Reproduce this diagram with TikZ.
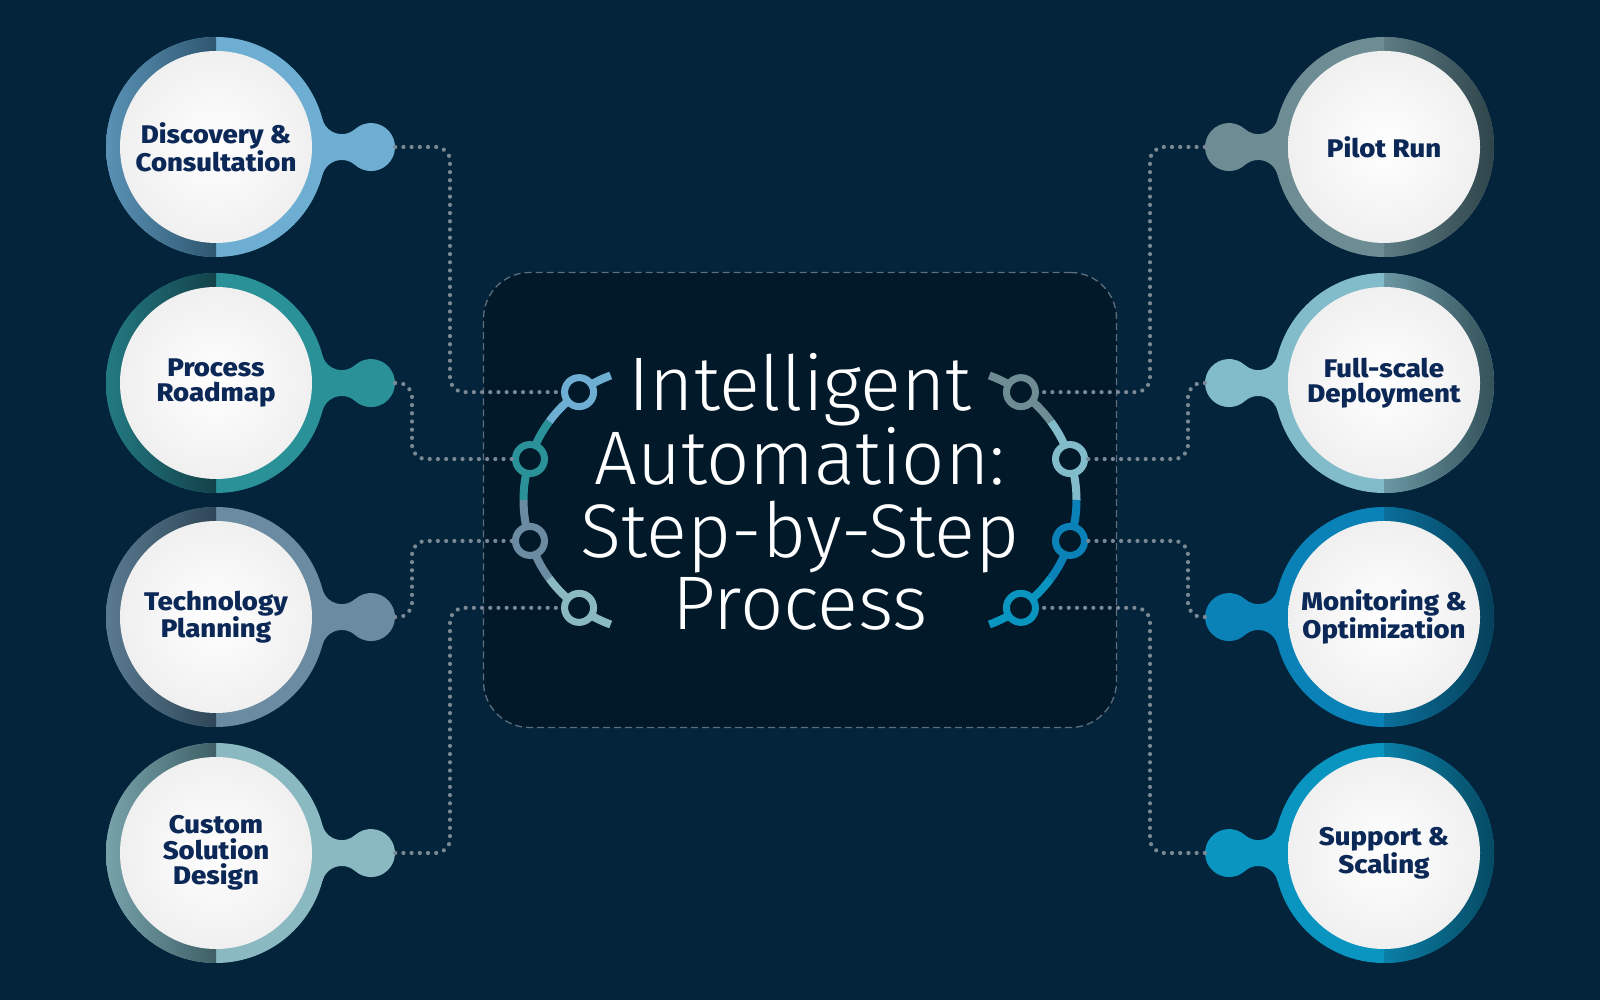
\documentclass[tikz,border=0pt]{standalone}
\usepackage{fontspec}
\setmainfont{Fira Sans}
\newfontfamily\titlefont{Fira Sans Light}
\newfontfamily\labelfont[FakeStretch=1.08]{Fira Sans ExtraBold}

\definecolor{bgnavy}{HTML}{03243B}
\definecolor{panelfill}{HTML}{02192A}
\definecolor{panelline}{HTML}{5E6E7C}
\definecolor{dotgray}{HTML}{7A8794}
\definecolor{labelnavy}{HTML}{0B2857}
\definecolor{discovery}{HTML}{6EAED2}\definecolor{discoveryMid}{HTML}{5A92B5}\definecolor{discoveryDark}{HTML}{2E5670}
\definecolor{roadmap}{HTML}{2B9199}\definecolor{roadmapMid}{HTML}{237A82}\definecolor{roadmapDark}{HTML}{134149}
\definecolor{planning}{HTML}{6A8BA1}\definecolor{planningMid}{HTML}{5A7A90}\definecolor{planningDark}{HTML}{2E4657}
\definecolor{design}{HTML}{8BB9C1}\definecolor{designMid}{HTML}{78A3AB}\definecolor{designDark}{HTML}{3E5F66}
\definecolor{pilot}{HTML}{6D8C94}\definecolor{pilotMid}{HTML}{5E7C84}\definecolor{pilotDark}{HTML}{2E444A}
\definecolor{deploy}{HTML}{82BCCB}\definecolor{deployMid}{HTML}{6A97A3}\definecolor{deployDark}{HTML}{34525A}
\definecolor{monitor}{HTML}{0B82B7}\definecolor{monitorMid}{HTML}{0A6F9B}\definecolor{monitorDark}{HTML}{06405A}
\definecolor{support}{HTML}{0A95C1}\definecolor{supportMid}{HTML}{0A7FA6}\definecolor{supportDark}{HTML}{064A63}

\tikzset{
    panel/.style={rectangle, rounded corners=46pt, draw=panelline, fill=panelfill,
        line width=1.3pt, dash pattern=on 7pt off 4pt,
        minimum width=633pt, minimum height=455pt},
    titletext/.style={text=white, align=center, inner sep=0pt,
        font=\titlefont\fontsize{76}{72.5}\selectfont},
    steplabel/.style={text=labelnavy, align=center, inner sep=0pt,
        font=\labelfont\fontsize{25.5}{25.5}\selectfont},
    knob/.style={circle, minimum size=48pt, inner sep=0pt},
    face/.style={inner color=white, outer color=black!6},
    link/.style={draw=dotgray, line width=4.2pt, line cap=round,
        dash pattern=on 0pt off 8.2pt, rounded corners=14pt},
    bracket/.style={line width=8pt, line cap=butt},
    dotring/.style={circle, minimum size=29pt, inner sep=0pt, line width=7pt, fill=panelfill}
}

\begin{document}
\begin{tikzpicture}[x=1pt,y=1pt,>=latex]
    % background
    \fill[bgnavy] (0,0) rectangle (1600,1000);
    \useasboundingbox (0,0) rectangle (1600,1000);

    % centre panel and title
    \node[panel] (panel) at (800,500) {};
    \node[titletext] (title) at (800,508) {Intelligent\\Automation:\\Step-by-Step\\Process};

    % the eight step discs: name/x/side/y/colour/text
    \foreach \n/\x/\s/\y/\col/\txt in {
        l1/216/1/853/discovery/{Discovery \&\\Consultation},
        l2/216/1/617/roadmap/{Process\\Roadmap},
        l3/216/1/383/planning/{Technology\\Planning},
        l4/216/1/147/design/{Custom\\Solution\\Design},
        r1/1384/-1/853/pilot/{Pilot Run},
        r2/1384/-1/617/deploy/{Full-scale\\Deployment},
        r3/1384/-1/383/monitor/{Monitoring \&\\Optimization},
        r4/1384/-1/147/support/{Support \&\\Scaling}} {
        \begin{scope}[shift={(\x,\y)}, xscale=\s]
            % neck and knob
            \fill[\col] (14.66:110) arc[start angle=194.5, end angle=311.6, radius=20]
                arc[start angle=131.6, end angle=-131.6, radius=24]
                arc[start angle=48.4, end angle=165.5, radius=20] -- (0,0) -- cycle;
            % ring, outer half shaded
            \fill[\col] (0,0) circle[radius=110];
            \begin{scope}
                \clip (0,0) circle[radius=110];
                \shade[left color=\col Mid, right color=\col Dark] (-110,-110) rectangle (0,110);
            \end{scope}
            % white face
            \shade[face] (0,0) circle[radius=96];
            \node[steplabel] (\n) at (0,0) {\txt};
            \node[knob] (k\n) at (155,0) {};
        \end{scope}
    }

    % bend lines of the connectors
    \coordinate (outl) at (450,500);
    \coordinate (innl) at (412,500);
    \coordinate (outr) at (1150,500);
    \coordinate (innr) at (1188,500);

    % bracket arcs
    \coordinate (arcl) at (656,500);
    \coordinate (arcr) at (944,500);
    \foreach \a/\b/\col in {110/143.75/discovery, 143.75/180/roadmap,
                            180/216.25/planning, 216.25/250/design}
        \draw[bracket, \col] (arcl) ++(\a:132.5) arc[start angle=\a, end angle=\b, radius=132.5];
    \foreach \a/\b/\col in {70/36.25/pilot, 36.25/0/deploy,
                            0/-36.25/monitor, -36.25/-70/support}
        \draw[bracket, \col] (arcr) ++(\a:132.5) arc[start angle=\a, end angle=\b, radius=132.5];

    % rings on the arcs
    \foreach \i/\ang/\col in {1/125.5/discovery, 2/162/roadmap, 3/198/planning, 4/234.5/design}
        \path (arcl) ++(\ang:132.5) node[dotring, draw=\col] (lr\i) {};
    \foreach \i/\ang/\col in {1/54.5/pilot, 2/18/deploy, 3/-18/monitor, 4/-54.5/support}
        \path (arcr) ++(\ang:132.5) node[dotring, draw=\col] (rr\i) {};

    % dotted connectors
    \draw[link] (kl1.east) -| (outl |- lr1) -- (lr1.west);
    \draw[link] (kl2.east) -| (innl |- lr2) -- (lr2.west);
    \draw[link] (kl3.east) -| (innl |- lr3) -- (lr3.west);
    \draw[link] (kl4.east) -| (outl |- lr4) -- (lr4.west);
    \draw[link] (kr1.west) -| (outr |- rr1) -- (rr1.east);
    \draw[link] (kr2.west) -| (innr |- rr2) -- (rr2.east);
    \draw[link] (kr3.west) -| (innr |- rr3) -- (rr3.east);
    \draw[link] (kr4.west) -| (outr |- rr4) -- (rr4.east);
\end{tikzpicture}
\end{document}
